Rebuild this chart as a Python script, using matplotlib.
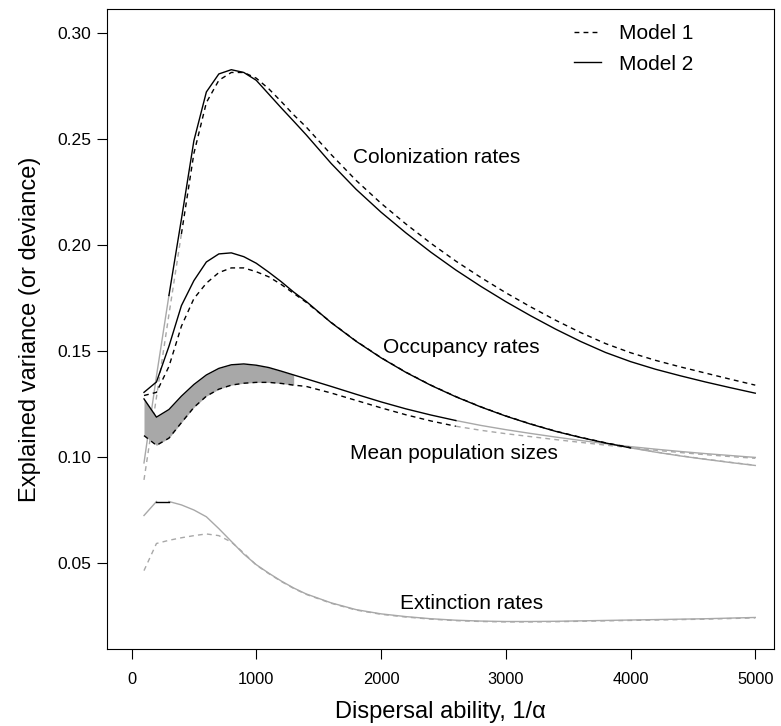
import matplotlib
matplotlib.use("Agg")
import matplotlib.pyplot as plt
import numpy as np

# dispersal ability grid, 1/alpha
x = [100, 200, 300, 400, 500, 600, 700, 800, 900, 1000, 1100, 1200, 1300, 1400,
     1600, 1800, 2000, 2200, 2400, 2600, 2800, 3000, 3200, 3400, 3600, 3800,
     4000, 4200, 4400, 4600, 4800, 5000]

# Model 1 = dashed, Model 2 = solid
col_m1 = [0.089, 0.128, 0.167, 0.205, 0.243, 0.267, 0.2775, 0.2812, 0.2812, 0.2785,
          0.2735, 0.2675, 0.2612, 0.2555, 0.2425, 0.2303, 0.2195, 0.2097, 0.2006,
          0.1922, 0.1845, 0.1773, 0.1706, 0.1643, 0.1585, 0.1533, 0.1490, 0.1454,
          0.1423, 0.1394, 0.1365, 0.1337]
col_m2 = [0.097, 0.138, 0.176, 0.212, 0.249, 0.272, 0.2805, 0.2825, 0.2812, 0.2775,
          0.2710, 0.2645, 0.2582, 0.2518, 0.2383, 0.2261, 0.2153, 0.2055, 0.1964,
          0.1880, 0.1803, 0.1731, 0.1664, 0.1601, 0.1543, 0.1491, 0.1448, 0.1412,
          0.1381, 0.1352, 0.1325, 0.1299]

occ_m1 = [0.1288, 0.1303, 0.1425, 0.1615, 0.1745, 0.1818, 0.1868, 0.1890, 0.1890,
          0.1872, 0.1848, 0.1812, 0.1770, 0.1728, 0.1633, 0.1545, 0.1467, 0.1398,
          0.1337, 0.1283, 0.1235, 0.1192, 0.1154, 0.1120, 0.1091, 0.1065, 0.1042,
          0.1022, 0.1004, 0.0988, 0.0973, 0.0959]
occ_m2 = [0.1303, 0.1352, 0.1520, 0.1712, 0.1830, 0.1918, 0.1956, 0.1961, 0.1943,
          0.1912, 0.1870, 0.1825, 0.1776, 0.1732, 0.1632, 0.1544, 0.1466, 0.1397,
          0.1336, 0.1282, 0.1234, 0.1191, 0.1153, 0.1119, 0.1090, 0.1064, 0.1041,
          0.1021, 0.1003, 0.0987, 0.0972, 0.0958]

mps_m1 = [0.1099, 0.1053, 0.1087, 0.1160, 0.1232, 0.1285, 0.1318, 0.1337, 0.1346,
          0.1350, 0.1350, 0.1345, 0.1337, 0.1331, 0.1300, 0.1265, 0.1230, 0.1197,
          0.1168, 0.1143, 0.1124, 0.1108, 0.1094, 0.1080, 0.1067, 0.1054, 0.1042,
          0.1030, 0.1019, 0.1009, 0.1000, 0.0992]
mps_m2 = [0.1272, 0.1186, 0.1222, 0.1285, 0.1340, 0.1385, 0.1416, 0.1433, 0.1437,
          0.1431, 0.1420, 0.1403, 0.1385, 0.1367, 0.1331, 0.1294, 0.1258, 0.1225,
          0.1196, 0.1170, 0.1147, 0.1127, 0.1109, 0.1092, 0.1076, 0.1061, 0.1047,
          0.1035, 0.1024, 0.1014, 0.1005, 0.0996]

ext_m1 = [0.0462, 0.0590, 0.0605, 0.0617, 0.0627, 0.0635, 0.0627, 0.0597, 0.0545,
          0.0488, 0.0448, 0.0411, 0.0378, 0.0350, 0.0308, 0.0276, 0.0256, 0.0243,
          0.0233, 0.0226, 0.0222, 0.0220, 0.0220, 0.0221, 0.0223, 0.0225, 0.0227,
          0.0229, 0.0231, 0.0233, 0.0236, 0.0239]
ext_m2 = [0.0722, 0.0788, 0.0788, 0.0772, 0.0748, 0.0716, 0.0660, 0.0600, 0.0540,
          0.0490, 0.0450, 0.0413, 0.0380, 0.0352, 0.0310, 0.0278, 0.0258, 0.0245,
          0.0235, 0.0228, 0.0224, 0.0222, 0.0222, 0.0223, 0.0225, 0.0227, 0.0229,
          0.0231, 0.0233, 0.0235, 0.0238, 0.0241]

# x-range over which each curve is drawn black (grey elsewhere)
col_m1_black = (400, 5000)
col_m2_black = (300, 5000)
occ_black = (100, 4000)
mps_black = (100, 2600)
ext_m2_black = (200, 300)
fill_to = 1300

labels = ["Colonization rates", "Occupancy rates", "Mean population sizes", "Extinction rates"]
label_xy = [(1775, 0.2409), (2018, 0.1516), (1751, 0.1016), (2151, 0.0309)]

plt.rcParams["font.family"] = "Liberation Sans"

GREY = "#a8a8a8"
LW = 1.0
DASH = (3.5, 3.0)

fig = plt.figure(figsize=(7.81, 7.26), dpi=100)
ax = fig.add_axes([0.1374, 0.1057, 0.8536, 0.8815])
xa = np.array(x)


def draw(y, dashed, black):
    y = np.array(y)
    kw = dict(lw=LW)
    if dashed:
        kw["dashes"] = DASH
    lo, hi = black
    left = xa <= lo
    right = xa >= hi
    mid = (xa >= lo) & (xa <= hi)
    for m in (left, right):
        if m.sum() > 1:
            ax.plot(xa[m], y[m], color=GREY, **kw)
    if mid.sum() > 1:
        ax.plot(xa[mid], y[mid], color="black", zorder=3, **kw)


m = xa <= fill_to
ax.fill_between(xa[m], np.array(mps_m1)[m], np.array(mps_m2)[m], color=GREY, lw=0)

draw(col_m1, True, col_m1_black)
draw(col_m2, False, col_m2_black)
draw(occ_m1, True, occ_black)
draw(occ_m2, False, occ_black)
draw(mps_m1, True, mps_black)
draw(mps_m2, False, mps_black)
draw(ext_m1, True, (0, 0))
draw(ext_m2, False, ext_m2_black)

for t, (lx, ly) in zip(labels, label_xy):
    ax.text(lx, ly, t, fontsize=15, ha="left", va="center")

ax.plot([], [], color="black", lw=LW, dashes=DASH, label="Model 1")
ax.plot([], [], color="black", lw=LW, label="Model 2")
ax.legend(loc="upper left", bbox_to_anchor=(0.672, 1.006), frameon=False, fontsize=15,
          handlelength=1.3, handletextpad=0.85, labelspacing=0.55)

ax.set_xlim(-194, 5150)
ax.set_ylim(0.0091, 0.311)
ax.set_xticks([0, 1000, 2000, 3000, 4000, 5000])
ax.set_yticks([0.05, 0.10, 0.15, 0.20, 0.25, 0.30])
ax.set_yticklabels(["0.05", "0.10", "0.15", "0.20", "0.25", "0.30"])
ax.tick_params(direction="out", length=7.5, width=0.8, labelsize=12.6, pad=4)
ax.tick_params(axis="x", labelsize=11.8, pad=9)
for s in ax.spines.values():
    s.set_linewidth(0.8)

ax.set_xlabel("Dispersal ability, 1/α", fontsize=17, labelpad=10)
ax.set_ylabel("Explained variance (or deviance)", fontsize=17, labelpad=12)

fig.savefig("out.png", dpi=100)
